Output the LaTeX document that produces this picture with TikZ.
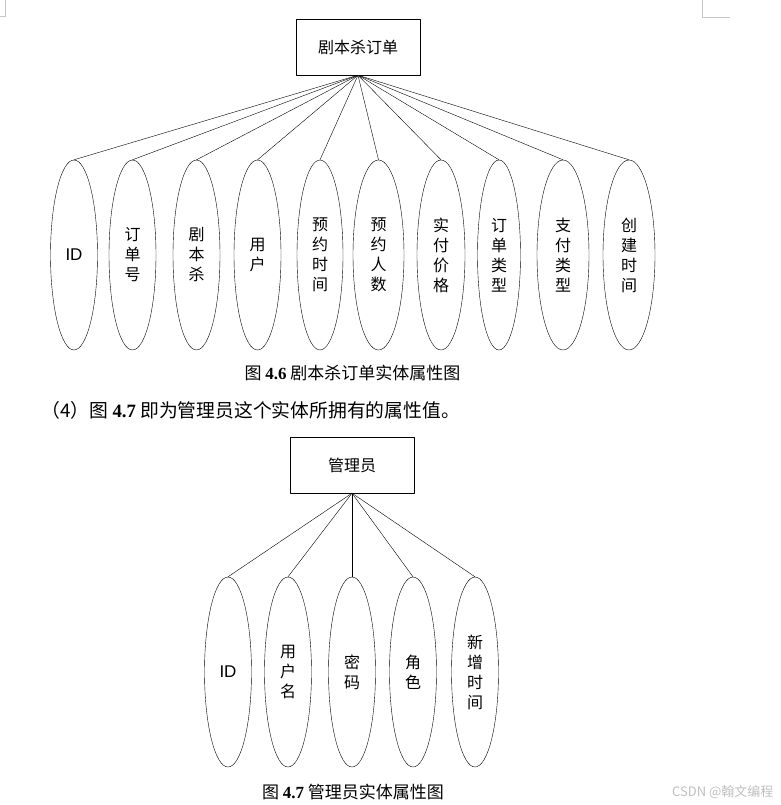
\documentclass[tikz,border=0pt]{standalone}
\usepackage{fontspec}
\setmainfont{Liberation Serif}
\setsansfont{Liberation Sans}
\newfontfamily\cjksans{Noto Sans CJK SC}
\usetikzlibrary{shapes.geometric}
\usetikzlibrary{positioning}

\newcommand{\fignum}[1]{{\rmfamily\bfseries #1}}

\tikzset{
  entity/.style={draw,rectangle,minimum width=124pt,minimum height=56pt,inner sep=0pt,font=\cjksans\fontsize{16}{20}\selectfont},
  attr/.style={draw,ellipse,minimum width=47pt,minimum height=190pt,inner sep=0pt,align=center,font=\cjksans\fontsize{16}{20}\selectfont},
  caption/.style={font=\cjksans\fontsize{17}{20}\selectfont},
  corner/.style={draw=gray!45,line width=0.6pt}
}

\begin{document}
\begin{tikzpicture}[x=1pt,y=-1pt,line cap=round,line join=round]
\useasboundingbox (0,0) rectangle (780,805);
% page corner marks
\draw[corner] (5,0) -- (5,16) -- (0,16);
\draw[corner] (702,0) -- (702,17) -- (730,17);
% entity: order
\node[entity] (order) at (358,47) {剧本杀订单};
\node[attr] (o1) at (74,255) {\sffamily\fontsize{17}{20}\selectfont ID};
\node[attr] (o2) at (132.5,255) {订\\单\\号};
\node[attr] (o3) at (196.5,255) {剧\\本\\杀};
\node[attr] (o4) at (257.5,255) {用\\户};
\node[attr,minimum width=46pt] (o5) at (320,255) {预\\约\\时\\间};
\node[attr,minimum width=51pt] (o6) at (378.5,255) {预\\约\\人\\数};
\node[attr,minimum width=48pt] (o7) at (441,255) {实\\付\\价\\格};
\node[attr,minimum width=43pt] (o8) at (499,255) {订\\单\\类\\型};
\node[attr,minimum width=52pt] (o9) at (563,255) {支\\付\\类\\型};
\node[attr,minimum width=52pt] (o10) at (629,255) {创\\建\\时\\间};
\foreach \n in {o1,o2,o3,o4,o5,o6,o7,o8,o9,o10}
  \draw (order.south) -- (\n.north);
\node[caption] (cap1) at (352.5,373) {图 \fignum{4.6}\ 剧本杀订单实体属性图};
% text line
\node[caption,anchor=west,font=\cjksans\fontsize{18.8}{22}\selectfont] (line) at (38,410) {（4）图 \fignum{4.7} 即为管理员这个实体所拥有的属性值。};
% entity: admin
\node[entity] (admin) at (352,465) {管理员};
\node[attr] (m1) at (228,672) {\sffamily\fontsize{17}{20}\selectfont ID};
\node[attr] (m2) at (288,672) {用\\户\\名};
\node[attr] (m3) at (352,672) {密\\码};
\node[attr] (m4) at (413,672) {角\\色};
\node[attr] (m5) at (475,672) {新\\增\\时\\间};
\foreach \n in {m1,m2,m3,m4,m5}
  \draw (admin.south) -- (\n.north);
\node[caption] (cap2) at (353,792) {图 \fignum{4.7} 管理员实体属性图};
\node[anchor=east,text=gray!50,font=\cjksans\fontsize{13}{15}\selectfont] (mark) at (777,792) {CSDN @翰文编程};
\end{tikzpicture}
\end{document}
